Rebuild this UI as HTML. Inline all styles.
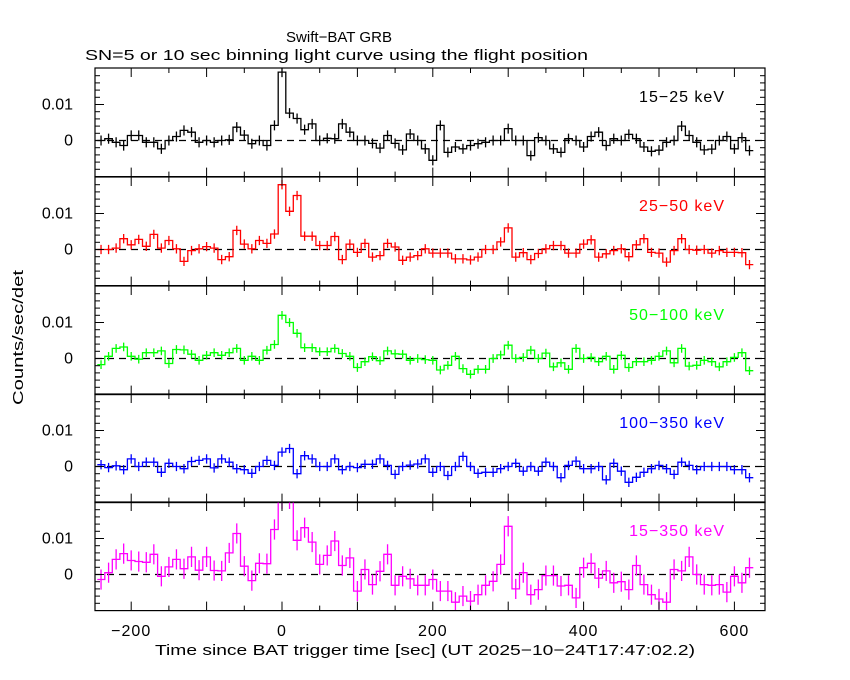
<!DOCTYPE html>
<html><head><meta charset="utf-8"><style>
html,body{margin:0;padding:0;background:#fff;}
svg{display:block;font-family:"Liberation Sans",sans-serif;}
</style></head><body>
<svg id="chart" width="850" height="680" viewBox="0 0 850 680" xmlns="http://www.w3.org/2000/svg">
<rect width="850" height="680" fill="#fff"/>
<text x="286" y="42" font-size="15" textLength="106" lengthAdjust="spacingAndGlyphs">Swift−BAT GRB</text>
<text x="85" y="60" font-size="15" textLength="503" lengthAdjust="spacingAndGlyphs">SN=5 or 10 sec binning light curve using the flight position</text>
<text transform="translate(23,405) rotate(-90)" font-size="15" textLength="135" lengthAdjust="spacingAndGlyphs">Counts/sec/det</text>
<text x="155" y="655" font-size="15" textLength="540" lengthAdjust="spacingAndGlyphs">Time since BAT trigger time [sec] (UT 2025−10−24T17:47:02.2)</text>
<g id="plots"></g>
</svg>
<script>
const binStart = -245;
const binWidth = 10;
const xTicks = [-200, 0, 200, 400, 600];
const xTickLabels = ["−200", "0", "200", "400", "600"];
const yTicks = [0, 10];
const yTickLabels = ["0", "0.01"];
const bandNames = ["15−25 keV", "25−50 keV", "50−100 keV", "100−350 keV", "15−350 keV"];
const bandColors = ["#000000", "#ff0000", "#00ff00", "#0000ff", "#ff00ff"];
const bandErrors = [1.4, 1.3, 1.2, 1.3, 2.8];
// values in units of 0.001 counts/sec/det
const band1 = [0,0.5,-0.5,-1.4,1.4,1.4,-0.5,-0.5,-2.3,0,1.1,2.8,2.3,-0.5,0,-0.5,0,0.2,3.7,1.5,-0.9,0,-1.4,4.2,19,7.6,6.1,3,4.6,0,0.6,0.5,4.6,2.3,0,0,-0.8,-2.1,1.4,-0.8,-2.6,1.8,0,-2.3,-5.5,4.2,-3.3,-1.8,-2.3,-1.4,-0.9,-0.5,0,0,3.3,0,0,-4.2,0.8,0,-2.3,-3.3,0.5,0,-1.8,1.1,2.3,-1.4,0.5,0,1.7,0.5,-1.8,-3,-2.7,-0.5,0,4,1.4,-0.5,-2.6,-2.4,0,1.1,-2.3,0.8,-2.8];
const band2 = [0,0,0.4,3,1.3,2.8,0.9,4.2,0.4,2.5,0.2,-3.3,-0.3,0.2,0.8,0.4,-2.8,-2,5.3,1.5,0.2,2.5,1.7,4.3,18,10.6,15,3.7,3.7,1.1,1.1,3.6,-2.8,1.5,-0.8,1.7,-2.1,-1.7,1.7,0.7,-3,-2.1,-1.7,0.2,-1,-1,-1,-2.6,-2.6,-2.9,-2.1,0,0,2.1,6,-2.1,-0.9,-2.8,-1.1,0.2,1.1,1.1,-1,-1,1.5,2.7,-2.1,-1.2,-0.3,0.2,-2,1.3,3,-0.8,-1,-3.5,-0.3,3,0,-0.2,0,-1,-0.3,-0.8,-0.8,-0.9,-4.2];
const band3 = [-1.7,0.6,2.8,3.2,0.6,-0.2,1.6,1.6,2.1,-1.4,2.5,2.4,1.2,-0.5,0.9,1.6,0.9,1.6,2.8,-0.5,0.6,-0.5,2.3,3.9,12,10,7,3,3,1.9,1.9,2.8,1.4,0.6,-2.5,-0.9,0.5,-0.6,2.1,1.3,1.2,-0.5,0,-0.3,-0.5,-3.2,-1.9,0.6,-2.8,-4.4,-3,-3,0,1,3.7,0,0.3,2.3,0,1.5,-2.3,-1.2,-3,2.8,0,0.3,-0.9,0.6,-3,0.9,-2.5,-0.9,-0.9,-0.5,0.6,2.1,-1.2,2.8,-2.1,-1.9,-0.5,-0.9,-2.3,-0.9,0.3,1.6,-3.4];
const band4 = [0.5,-0.3,0.2,-0.9,2.1,0,1.2,1.2,-1.6,0.9,0,-0.6,1.4,1.7,2.1,-0.4,2.1,1.2,-0.6,-0.9,-1.9,0,1.7,0.3,4,5,-2,3,2.1,0,0,2.1,-0.9,0,-0.3,0.6,0.6,2.1,0.3,-2.2,0,0.4,0.7,2.1,-1.6,0,-2.5,0,2.8,0,-1.9,-1.6,-1.6,-0.6,0,0.9,-1.3,0,-1.3,1.2,0,-3.1,0.3,1.5,-0.6,-0.6,0,-3.7,0.9,-1.3,-4.4,-3,-1.6,-0.6,0.3,-0.6,-2.2,1.2,0.3,-0.9,0,0,0,0,-0.9,-0.9,-3.1];
const band5 = [-1.4,0.5,4.2,5.8,3.9,3.6,3.4,5.6,-0.5,2.1,4.2,1.6,4.9,1.2,4.9,1.1,1,6,11.4,2.3,-1.7,3.1,3,12.5,21,21,9.5,13,9,2.8,5.3,9.3,2.5,4.6,-4.6,1.4,-2.8,0.9,5.6,-3,-0.5,-1.2,-3,-3,-1.4,-4.6,-4.6,-7.7,-6,-7.4,-5.6,-3,-1.9,2.8,13.4,-4,0.5,-5.6,-4.2,-0.3,-0.3,-3.2,-3,-6.5,1.9,3.1,-1,1,-2.3,-2,-4.2,2.5,-2.8,-5.6,-6.8,-7.7,1.4,1,4.9,0,-2.8,-3,-2.8,-4.9,-0.5,-2.3,1.9];
const bands = [band1, band2, band3, band4, band5];

const NS = "http://www.w3.org/2000/svg";
const X0 = 95, X1 = 765;
const panelTops = [68, 177, 286, 394, 502];
const panelH = 108.6;
const zeroOffset = 72.5;
const yUnit = 3.6;
function xs(t){ return 282 + t * 0.754; }
function ys(p, v){ return panelTops[p] + zeroOffset - v * yUnit; }
function mk(tag, attrs, parent){
  const e = document.createElementNS(NS, tag);
  for (const k in attrs) e.setAttribute(k, attrs[k]);
  parent.appendChild(e);
  return e;
}
const root = document.getElementById("plots");
for (let p = 0; p < 5; p++) {
  const top = panelTops[p], bot = top + panelH;
  const g = mk("g", {}, root);
  
  
  const cp = mk("clipPath", {id: "clip" + p}, g);
  mk("rect", {x: X0, y: top, width: X1 - X0, height: panelH}, cp);
  const zl = mk("line", {x1: X0, x2: X1, y1: ys(p,0), y2: ys(p,0), stroke: "#000", "stroke-width": 1.2, "stroke-dasharray": "7,5"}, g);
  
  
  const vals = bands[p];
  let d = "";
  const sg = mk("g", {"clip-path": "url(#clip" + p + ")", stroke: bandColors[p], "stroke-width": 1.3, fill: "none"}, g);
  
  
  for (let i = 0; i < vals.length; i++) {
    const t0 = binStart + i * binWidth, t1 = t0 + binWidth;
    const xa = xs(t0), xb = xs(t1), y = ys(p, vals[i]);
    d += (i === 0 ? "M" : "L") + xa.toFixed(1) + "," + y.toFixed(1) + "L" + xb.toFixed(1) + "," + y.toFixed(1);
    const xm = xs(t0 + binWidth/2);
    const eb = mk("line", {x1: xm, x2: xm, y1: ys(p, vals[i] + bandErrors[p]), y2: ys(p, vals[i] - bandErrors[p])}, sg);
    
    
  }
  const path = mk("path", {d: d}, sg);
  
  
  const fr = mk("rect", {x: X0, y: top, width: X1 - X0, height: panelH, fill: "none", stroke: "#000", "stroke-width": 1.2}, g);
  
  
  for (let t = -200; t <= 600; t += 50) {
    const x = xs(t), L = (t % 100 === 0) ? 9 : 5;
    mk("line", {x1: x, x2: x, y1: top, y2: top + L, stroke: "#000", "stroke-width": 1}, g);
    mk("line", {x1: x, x2: x, y1: bot, y2: bot - L, stroke: "#000", "stroke-width": 1}, g);
  }
  for (let v = -8; v <= 18; v += 2) {
    const y = ys(p, v);
    if (y < top || y > bot) continue;
    const L = (v % 10 === 0) ? 9 : 5;
    mk("line", {x1: X0, x2: X0 + L, y1: y, y2: y, stroke: "#000", "stroke-width": 1}, g);
    mk("line", {x1: X1, x2: X1 - L, y1: y, y2: y, stroke: "#000", "stroke-width": 1}, g);
  }
  for (let k = 0; k < yTicks.length; k++) {
    const tl = mk("text", {x: 73, y: ys(p, yTicks[k]) + 5, "font-size": 16, "text-anchor": "end"}, g);
    tl.textContent = yTickLabels[k];
    
    
  }
  const lab = mk("text", {x: 725, y: top + 34, "font-size": 16, "text-anchor": "end", fill: bandColors[p], "letter-spacing": "1"}, g);
  lab.textContent = bandNames[p];
  
  
}
for (let k = 0; k < xTicks.length; k++) {
  const tl = mk("text", {x: xs(xTicks[k]), y: 636, "font-size": 16, "text-anchor": "middle", "letter-spacing": "1"}, root);
  tl.textContent = xTickLabels[k];
  
  
}
</script>
</body></html>
